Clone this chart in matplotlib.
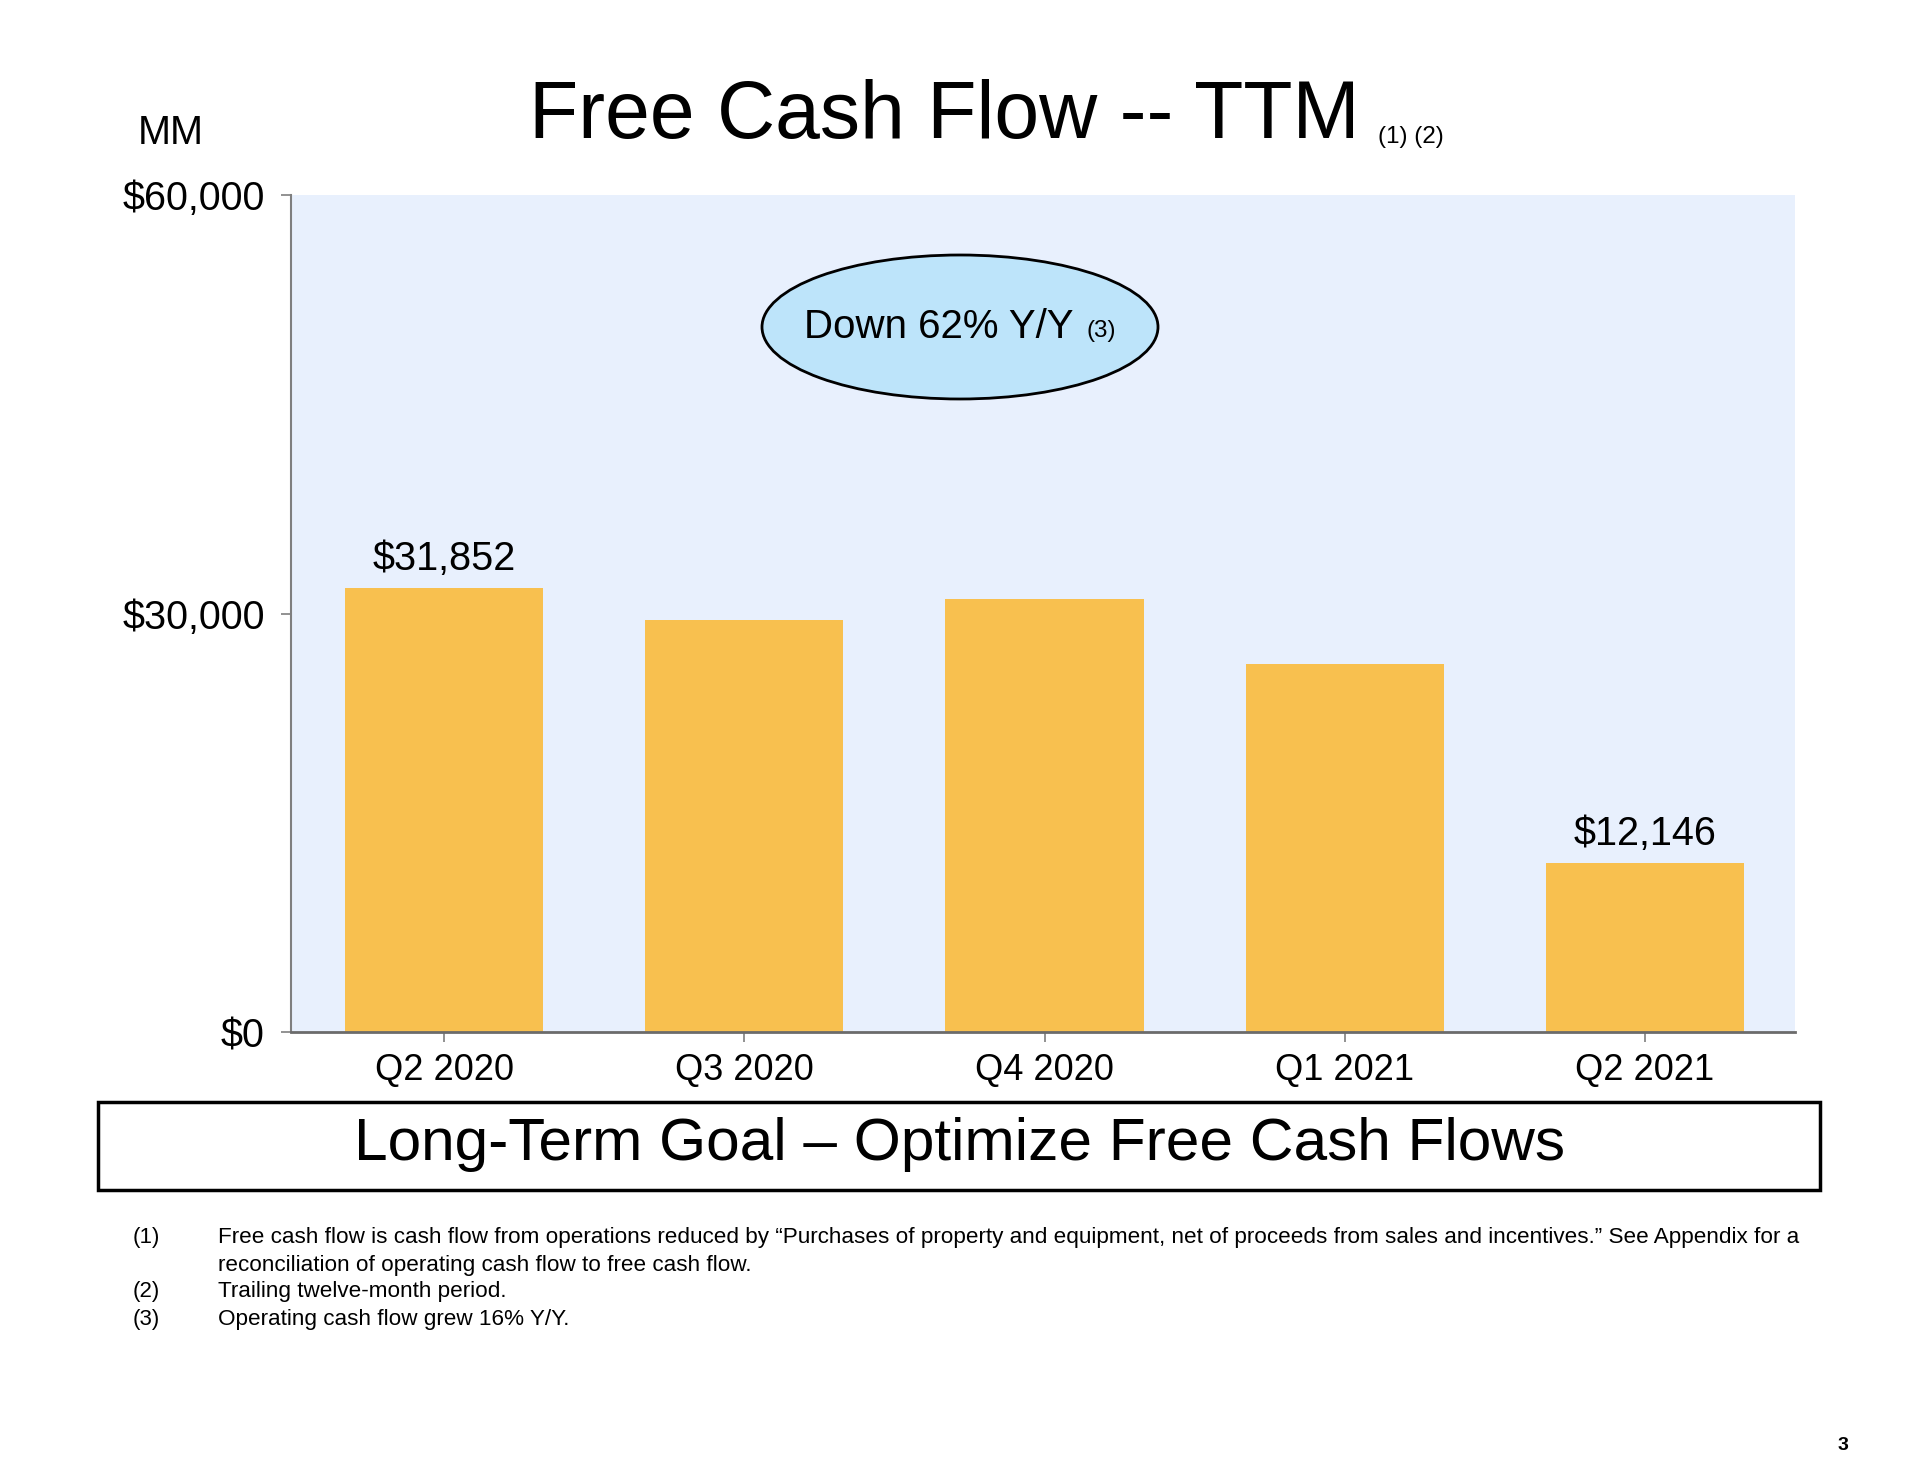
import matplotlib
matplotlib.use("Agg")
import matplotlib.pyplot as plt
from matplotlib.patches import Ellipse, Rectangle
from matplotlib.ticker import FuncFormatter

plt.rcParams['font.family'] = ['Liberation Sans', 'DejaVu Sans']

categories = ["Q2 2020", "Q3 2020", "Q4 2020", "Q1 2021", "Q2 2021"]
values = [31852, 29508, 31020, 26410, 12146]
labels_shown = {0: "$31,852", 4: "$12,146"}
yticks = [0, 30000, 60000]
footnote_nums = ["(1)", "", "(2)", "(3)"]
footnote_lines = [
    "Free cash flow is cash flow from operations reduced by \u201cPurchases of property and equipment, net of proceeds from sales and incentives.\u201d See Appendix for a",
    "reconciliation of operating cash flow to free cash flow.",
    "Trailing twelve-month period.",
    "Operating cash flow grew 16% Y/Y.",
]

W, H = 1920, 1467
fig = plt.figure(figsize=(W / 100, H / 100), dpi=100)
fig.patch.set_facecolor("white")

def fx(px):
    return px / W

def fy(py):
    return 1 - py / H

ax = fig.add_axes([fx(291), fy(1032), fx(1795) - fx(291), fy(195) - fy(1032)])
ax.set_facecolor("#E8F0FD")
x = list(range(len(categories)))
ax.bar(x, values, width=0.66, color="#F8C04F", zorder=2)
ax.set_xlim(-0.51, len(categories) - 0.5)
ax.set_ylim(0, 60000)
ax.set_yticks(yticks)
ax.yaxis.set_major_formatter(FuncFormatter(lambda v, p: f"${v:,.0f}"))
ax.set_xticks(x)
ax.set_xticklabels(categories)
for s in ["top", "right"]:
    ax.spines[s].set_visible(False)
for s in ["left", "bottom"]:
    ax.spines[s].set_color("#7F7F7F")
    ax.spines[s].set_linewidth(1.5)
ax.spines["bottom"].set_linewidth(2.0)
ax.spines["bottom"].set_color("#6B6B6B")
ax.tick_params(axis="y", length=7, width=1.2, color="#7F7F7F", labelsize=28.5, pad=12)
ax.tick_params(axis="x", length=7, width=1.2, color="#7F7F7F", labelsize=26, pad=8)

for i, txt in labels_shown.items():
    ax.annotate(txt, (x[i], values[i]), xytext=(0, 7), textcoords="offset points",
                ha="center", va="bottom", fontsize=28.5)

# Ellipse callout
ell = Ellipse((fx(960), fy(327)), fx(396), 144 / H, transform=fig.transFigure,
              facecolor="#BDE4FA", edgecolor="black", linewidth=2, zorder=5)
fig.patches.append(ell)
fig.text(fx(804), fy(327), "Down 62% Y/Y", ha="left", va="center", fontsize=29, zorder=6)
fig.text(fx(1087), fy(331), "(3)", ha="left", va="center", fontsize=17.5, zorder=6)

# Titles
fig.text(fx(529), fy(117), "Free Cash Flow -- TTM", ha="left", va="center", fontsize=58)
fig.text(fx(1378), fy(137), "(1) (2)", ha="left", va="center", fontsize=17.5)
fig.text(fx(138), fy(133), "MM", ha="left", va="center", fontsize=28.5)

# Goal box
rect = Rectangle((fx(98), fy(1190)), fx(1820) - fx(98), (1190 - 1102) / H,
                 transform=fig.transFigure, facecolor="white", edgecolor="black", linewidth=2.5)
fig.patches.append(rect)
fig.text(fx(959), fy(1145), "Long-Term Goal \u2013 Optimize Free Cash Flows", ha="center", va="center", fontsize=43.5)

# Footnotes
ys = [1238, 1265, 1292, 1319]
for num, line, yy in zip(footnote_nums, footnote_lines, ys):
    if num:
        fig.text(fx(133), fy(yy), num, ha="left", va="center", fontsize=16)
    fig.text(fx(218), fy(yy), line, ha="left", va="center", fontsize=16.2)

fig.text(fx(1843), fy(1445), "3", ha="center", va="center", fontsize=14, fontweight="bold")

fig.savefig("out.png", dpi=100)
